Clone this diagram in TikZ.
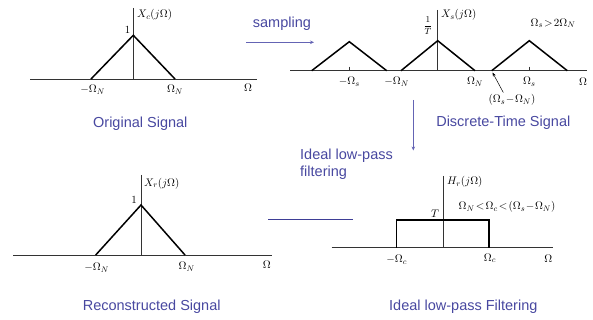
\documentclass[tikz,border=0pt]{standalone}
\usepackage{fontspec}
\newfontfamily\labelfont{Liberation Sans}
\usetikzlibrary{arrows.meta}
\definecolor{captext}{RGB}{72,72,160}
\definecolor{capline}{RGB}{62,62,150}
\definecolor{caparrow}{RGB}{100,100,180}
\tikzset{
  axisline/.style={line width=0.6pt, black!80},
  curve/.style={line width=1.5pt, black, line join=miter},
  mlabel/.style={font=\fontsize{11}{13}\selectfont, inner sep=0pt},
  caption/.style={font=\labelfont\fontsize{14.5}{17}\selectfont, text=captext, inner sep=0pt},
  flowarrow/.style={caparrow, line width=0.8pt, -{Stealth[length=4pt,width=3.5pt]}},
  flowline/.style={capline, line width=1.1pt}
}
\begin{document}
\begin{tikzpicture}[x=1pt,y=-1pt]
\useasboundingbox (0,0) rectangle (593,320);
% ---------- original signal ----------
\draw[axisline] (30,79) -- (257,79);
\draw[axisline] (133.3,8) -- (133.3,79);
\draw[curve] (91,79) -- (133.3,35.3) -- (175,79);
\node[mlabel, anchor=west] (xcl) at (137,15) {$X_c(j\Omega)$};
\node[mlabel] (one1) at (127.5,30) {$1$};
\node[mlabel] (mwn1) at (92.7,90) {$-\Omega_N$};
\node[mlabel] (wn1) at (175,90) {$\Omega_N$};
\node[mlabel] (om1) at (248,88) {$\Omega$};
\node[caption] (orig) at (140.3,123.5) {Original Signal};
% ---------- sampled signal ----------
\draw[axisline] (290,70.7) -- (587,70.7);
\draw[axisline] (437.7,10) -- (437.7,70.7);
\draw[curve] (311.7,70.7) -- (349.3,41.7) -- (386.7,70.7);
\draw[curve] (401,70.7) -- (437.7,40.7) -- (475,70.7);
\draw[curve] (491.7,70.7) -- (529.3,40.7) -- (567.3,70.7);
\draw[axisline] (349.3,66.7) -- (349.3,70.7);
\draw[axisline] (529.3,66.7) -- (529.3,70.7);
\node[mlabel, anchor=west] (xsl) at (441,15) {$X_s(j\Omega)$};
\node[mlabel, font=\fontsize{9}{11}\selectfont] (invt) at (428,26) {$\displaystyle\frac{1}{T}$};
\node[mlabel] (cond1) at (553,23.3) {$\Omega_s\!>\!2\Omega_N$};
\node[mlabel] (mws) at (349.3,81.5) {$-\Omega_s$};
\node[mlabel] (mwn2) at (396.7,81.5) {$-\Omega_N$};
\node[mlabel] (wn2) at (475,81.5) {$\Omega_N$};
\node[mlabel] (ws2) at (529.3,81.5) {$\Omega_s$};
\node[mlabel] (om2) at (583,81.5) {$\Omega$};
\node[mlabel] (diff) at (512,100) {$(\Omega_s\!-\!\Omega_N)$};
\coordinate (diffsrc) at (503.3,92.5);
\coordinate (diffpt) at (492.5,72.5);
\draw[line width=0.5pt, -{Stealth[length=4pt,width=3pt]}] (diffsrc) -- (diffpt);
\node[caption] (dts) at (503.3,123) {Discrete-Time Signal};
% ---------- reconstructed ----------
\draw[axisline] (13,255) -- (272,255);
\draw[axisline] (141,175) -- (141,255);
\draw[curve] (95.7,255) -- (141,205) -- (185,255);
\node[mlabel, anchor=west] (xrl) at (144,183.3) {$X_r(j\Omega)$};
\node[mlabel] (one2) at (134,199.5) {$1$};
\node[mlabel] (mwn3) at (96.7,268) {$-\Omega_N$};
\node[mlabel] (wn3) at (186.7,267) {$\Omega_N$};
\node[mlabel] (om3) at (266.7,265) {$\Omega$};
\node[caption] (rec) at (151.7,306.7) {Reconstructed Signal};
% ---------- filter ----------
\draw[axisline] (331.7,247.7) -- (553.3,247.7);
\draw[axisline] (443.7,176) -- (443.7,247.7);
\draw[curve] (396.7,247.7) -- (396.7,220) -- (489,220) -- (489,247.7);
\node[mlabel, anchor=west] (hrl) at (447,181.7) {$H_r(j\Omega)$};
\node[mlabel] (cond2) at (507,206.7) {$\Omega_N\!<\!\Omega_c\!<\!(\Omega_s\!-\!\Omega_N)$};
\node[mlabel] (tl) at (435,214) {$T$};
\node[mlabel] (mwc) at (396.7,260) {$-\Omega_c$};
\node[mlabel] (wc) at (490,258.3) {$\Omega_c$};
\node[mlabel] (om4) at (548.3,258.3) {$\Omega$};
\node[caption] (ilpf) at (463.3,306.7) {Ideal low-pass Filtering};
% ---------- flow ----------
\node[caption, anchor=west] (samp) at (252.7,23.5) {sampling};
\coordinate (sampA) at (246,42.3);
\coordinate (sampB) at (314,42.3);
\draw[flowarrow] (sampA) -- (sampB);
\coordinate (filtA) at (413.3,100);
\coordinate (filtB) at (413.3,150.5);
\draw[flowarrow] (filtA) -- (filtB);
\node[caption, anchor=north west, align=left] (filtxt) at (300,148.3) {Ideal low-pass\\filtering};
\coordinate (recA) at (268.3,219.3);
\coordinate (recB) at (352.7,219.3);
\draw[flowline] (recB) -- (recA);
\end{tikzpicture}
\end{document}
